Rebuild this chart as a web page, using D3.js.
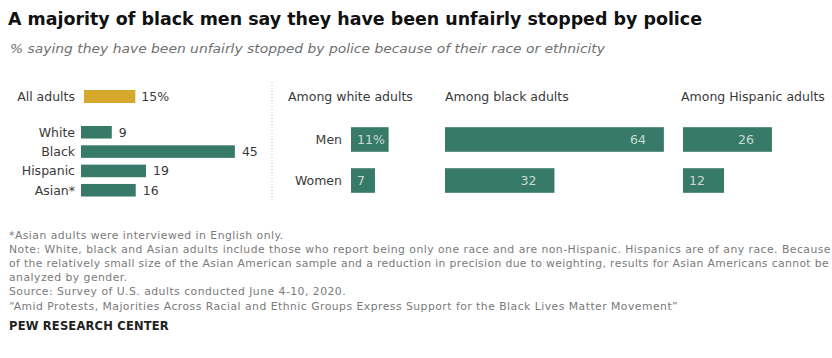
<!DOCTYPE html>
<html><head><meta charset="utf-8">
<script src="https://cdn.jsdelivr.net/npm/d3@7"></script>
<style>
body{margin:0;background:#fff;}
svg{display:block;}
text{font-family:"DejaVu Sans","Liberation Sans",Arial,sans-serif;}
</style></head>
<body>
<svg id="chart" width="832" height="358"></svg>
<script>
// ---- data ----
const allAdultsLabel = "All adults";
const allAdultsValue = 15;
const groups = ["White", "Black", "Hispanic", "Asian*"];
const groupValues = [9, 45, 19, 16];
const panels = ["Among white adults", "Among black adults", "Among Hispanic adults"];
const genders = ["Men", "Women"];
const menValues = [11, 64, 26];
const womenValues = [7, 32, 12];
const title = "A majority of black men say they have been unfairly stopped by police";
const subtitle = "% saying they have been unfairly stopped by police because of their race or ethnicity";
const notes = [
  "*Asian adults were interviewed in English only.",
  "Note: White, black and Asian adults include those who report being only one race and are non-Hispanic. Hispanics are of any race. Because",
  "of the relatively small size of the Asian American sample and a reduction in precision due to weighting, results for Asian Americans cannot be",
  "analyzed by gender.",
  "Source: Survey of U.S. adults conducted June 4-10, 2020.",
  "\u201cAmid Protests, Majorities Across Racial and Ethnic Groups Express Support for the Black Lives Matter Movement\u201d"
];
const credit = "PEW RESEARCH CENTER";

// ---- styles ----
const GREEN = "#367a67", GOLD = "#d6a92c", LABEL = "#3a3a3a", INNER = "#c9dad2";
const FS = 12.5;

const svg = d3.select("#chart");
const x = d3.scaleLinear().domain([0, 100]).range([0, 342]);

svg.append("text").attr("x", 8).attr("y", 25)
  .attr("font-family", "'Liberation Sans',Arial,sans-serif")
  .attr("font-size", 18.5).attr("font-weight", "bold").attr("fill", "#111")
  .attr("textLength", 694).attr("lengthAdjust", "spacingAndGlyphs").text(title);
svg.append("text").attr("x", 10).attr("y", 53)
  .attr("font-family", "'DejaVu Serif','Liberation Serif',serif")
  .attr("font-style", "italic").attr("font-size", 12.5).attr("fill", "#707070")
  .attr("textLength", 595).attr("lengthAdjust", "spacingAndGlyphs").text(subtitle);

// ---- left panel ----
const left = svg.append("g");
const labelX = 75, barX0 = 81;
left.append("text").attr("x", labelX).attr("y", 101).attr("text-anchor", "end")
  .attr("font-size", FS).attr("fill", LABEL).text(allAdultsLabel);
left.append("rect").attr("x", barX0 + 3).attr("y", 90).attr("height", 13)
  .attr("width", x(allAdultsValue)).attr("fill", GOLD);
left.append("text").attr("x", barX0 + 3 + x(allAdultsValue) + 6).attr("y", 101)
  .attr("font-size", FS).attr("fill", LABEL).text(allAdultsValue + "%");

const y = d3.scaleBand().domain(groups).range([122.5, 200]).paddingInner(0.35).paddingOuter(0.18);
const gg = left.selectAll("g.grp").data(groups.map((g, i) => ({g, v: groupValues[i]})))
  .join("g").attr("class", "grp");
gg.append("text").attr("x", labelX).attr("y", d => y(d.g) + y.bandwidth() / 2 + 4.5)
  .attr("text-anchor", "end").attr("font-size", FS).attr("fill", LABEL).text(d => d.g);
gg.append("rect").attr("x", barX0).attr("y", d => y(d.g)).attr("height", y.bandwidth())
  .attr("width", d => x(d.v)).attr("fill", GREEN);
gg.append("text").attr("x", d => barX0 + x(d.v) + 7).attr("y", d => y(d.g) + y.bandwidth() / 2 + 4.5)
  .attr("font-size", FS).attr("fill", LABEL).text(d => d.v);

// separator
svg.append("line").attr("x1", 272).attr("x2", 272).attr("y1", 82).attr("y2", 200)
  .attr("stroke", "#bbb").attr("stroke-width", 1).attr("stroke-dasharray", "1,2");

// ---- gender panels ----
const panelBarX = [351, 445, 683];
const panelHeadX = [288, 445, 681];
const yg = d3.scaleBand().domain(genders).range([119, 201]).paddingInner(0.4).paddingOuter(0.2);
panels.forEach((p, i) => {
  const g = svg.append("g");
  g.append("text").attr("x", panelHeadX[i]).attr("y", 101).attr("font-size", FS)
    .attr("fill", LABEL).text(p);
  const vals = [menValues[i], womenValues[i]];
  genders.forEach((gen, j) => {
    const v = vals[j];
    const w = x(v);
    const by = yg(gen), bh = yg.bandwidth();
    if (i === 0) {
      g.append("text").attr("x", 342).attr("y", by + bh / 2 + 4.5).attr("text-anchor", "end")
        .attr("font-size", FS).attr("fill", LABEL).text(gen);
    }
    g.append("rect").attr("x", panelBarX[i]).attr("y", by).attr("width", w).attr("height", bh)
      .attr("fill", GREEN);
    const lbl = (i === 0 && j === 0) ? v + "%" : String(v);
    const t = g.append("text").attr("y", by + bh / 2 + 4.5).attr("font-size", FS)
      .attr("fill", INNER).text(lbl);
    if (w > 60) t.attr("x", panelBarX[i] + w - 18).attr("text-anchor", "end");
    else t.attr("x", panelBarX[i] + 6);
  });
});

// ---- notes ----
const noteNodes = notes.map((n, i) =>
  svg.append("text").attr("x", 9).attr("y", 239 + i * 14.1).attr("font-size", 10.8)
    .attr("fill", "#7a7a7a").text(n));
// widen spacing so that the "Note:" line reaches the right edge like the original
const w1 = noteNodes[1].node().getComputedTextLength();
const ls = Math.max(0, (822 - w1) / notes[1].length);
noteNodes.forEach(t => t.attr("letter-spacing", ls));
// keep the longest line inside the picture
const w2 = noteNodes[2].attr("letter-spacing", 0).node().getComputedTextLength();
noteNodes[2].attr("letter-spacing", Math.min(ls, Math.max(0, (820 - w2) / notes[2].length)));
svg.append("text").attr("x", 9).attr("y", 330).attr("font-size", 11.5).attr("font-weight", "bold")
  .attr("font-family", "'Liberation Sans',Arial,sans-serif")
  .attr("fill", "#222").attr("letter-spacing", 0.2).text(credit);
</script>
</body></html>
